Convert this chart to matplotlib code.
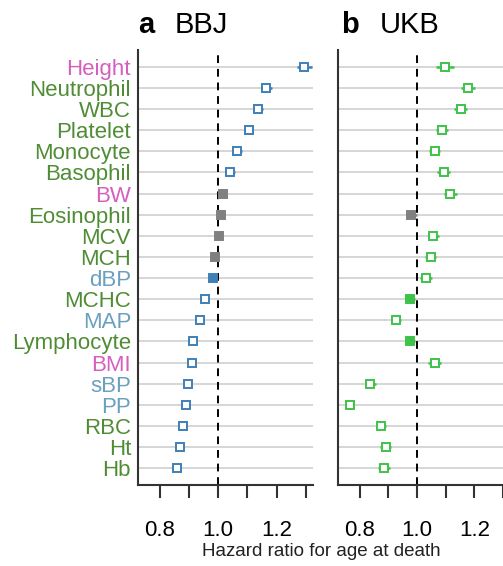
import matplotlib
matplotlib.use("Agg")
import matplotlib.pyplot as plt

plt.rcParams['font.family'] = ['Liberation Sans', 'DejaVu Sans']

traits = ["Height", "Neutrophil", "WBC", "Platelet", "Monocyte", "Basophil", "BW",
          "Eosinophil", "MCV", "MCH", "dBP", "MCHC", "MAP", "Lymphocyte", "BMI",
          "sBP", "PP", "RBC", "Ht", "Hb"]
# trait group: a = anthropometric, b = blood cell, p = blood pressure
group = ["a", "b", "b", "b", "b", "b", "a", "b", "b", "b", "p", "b", "p", "b", "a",
         "p", "p", "b", "b", "b"]

bbj_hr = [1.295, 1.165, 1.138, 1.104, 1.066, 1.042, 1.015, 1.010, 1.003, 0.990,
          0.982, 0.954, 0.937, 0.912, 0.910, 0.897, 0.891, 0.879, 0.869, 0.860]
bbj_ci = [0.026, 0.018, 0.014, 0.014, 0.014, 0.014, 0.014, 0.014, 0.012, 0.012,
          0.012, 0.012, 0.012, 0.012, 0.010, 0.010, 0.010, 0.010, 0.010, 0.010]
# s = significant, n = nominal, x = not significant
bbj_sig = ["s", "s", "s", "s", "s", "s", "x", "x", "x", "x",
           "n", "s", "s", "s", "s", "s", "s", "s", "s", "s"]

ukb_hr = [1.097, 1.179, 1.152, 1.087, 1.062, 1.093, 1.117, 0.981, 1.057, 1.048,
          1.031, 0.977, 0.928, 0.977, 1.062, 0.838, 0.766, 0.874, 0.891, 0.886]
ukb_ci = [0.032, 0.024, 0.022, 0.020, 0.020, 0.022, 0.022, 0.020, 0.020, 0.020,
          0.020, 0.018, 0.018, 0.018, 0.022, 0.018, 0.016, 0.018, 0.020, 0.020]
ukb_sig = ["s", "s", "s", "s", "s", "s", "s", "x", "s", "s",
           "s", "n", "s", "n", "s", "s", "s", "s", "s", "s"]

label_col = {"a": "#d45fbe", "b": "#4f8d35", "p": "#6aa0bf"}
rows = list(range(len(traits)))

fig = plt.figure(figsize=(5.03, 5.66), dpi=100)
ax1 = fig.add_axes([138 / 503, 1 - 485 / 566, 175 / 503, 435 / 566])
ax2 = fig.add_axes([338 / 503, 1 - 485 / 566, 165 / 503, 435 / 566])


def forest(ax, hr, ci, sig, col, xmax):
    for r in rows:
        ax.axhline(r, color="#d0d0d0", lw=1.2, zorder=0)
    ax.axvline(1.0, color="black", lw=1.4, ls=(0, (4, 3)), zorder=1)
    for r in rows:
        if sig[r] == "x":
            c, fc = "#808080", "#808080"
        elif sig[r] == "n":
            c, fc = col, col
        else:
            c, fc = col, "white"
        ax.errorbar(hr[r], r, xerr=ci[r], fmt="s", color=c, mfc=fc, mec=c,
                    ms=6.2, mew=1.4, elinewidth=1.8, capsize=0, zorder=3)
    ax.set_xlim(0.725, xmax)
    ax.set_ylim(19.8, -0.8)
    ax.set_xticks([0.8, 0.9, 1.0, 1.1, 1.2, 1.3])
    ax.set_xticklabels(["0.8", "", "1.0", "", "1.2", ""])
    ax.tick_params(axis="x", direction="out", length=9, width=1.5,
                   labelsize=16, pad=16, color="#333333")
    ax.tick_params(axis="y", length=0)
    for s in ("top", "right"):
        ax.spines[s].set_visible(False)
    for s in ("left", "bottom"):
        ax.spines[s].set_linewidth(1.5)
        ax.spines[s].set_color("#333333")


forest(ax1, bbj_hr, bbj_ci, bbj_sig, "#3f80b8", 1.325)
forest(ax2, ukb_hr, ukb_ci, ukb_sig, "#3fc24a", 1.29)

ax1.set_yticks(rows)
ax1.set_yticklabels(traits, fontsize=16)
ax1.tick_params(axis="y", pad=5)
for t, g in zip(ax1.get_yticklabels(), group):
    t.set_color(label_col[g])
ax2.set_yticks([])

fig.text(138 / 503, 1 - 33 / 566, "a", fontsize=21, fontweight="bold")
fig.text(175 / 503, 1 - 33 / 566, "BBJ", fontsize=21)
fig.text(341 / 503, 1 - 33 / 566, "b", fontsize=21, fontweight="bold")
fig.text(380 / 503, 1 - 33 / 566, "UKB", fontsize=21)
fig.text(321 / 503, 1 - 551 / 566, "Hazard ratio for age at death",
         fontsize=13.5, ha="center", va="center", color="#222222")

fig.savefig("out.png", dpi=100)
